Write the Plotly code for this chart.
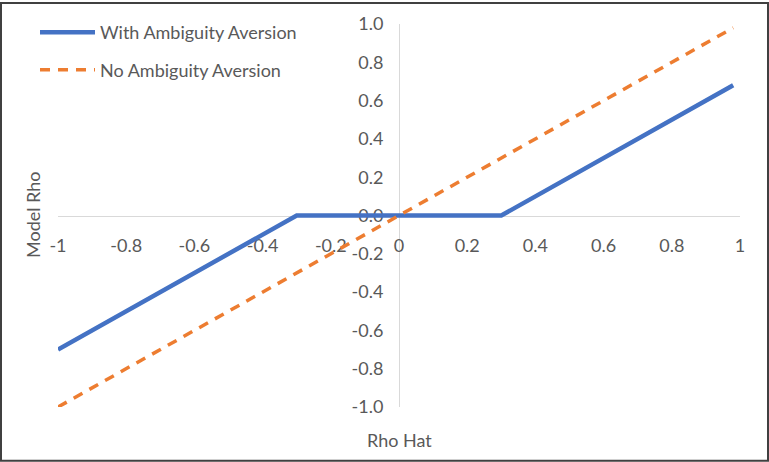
import plotly.graph_objects as go

# Data
rho_hat = [-1.0, -0.9, -0.8, -0.7, -0.6, -0.5, -0.4, -0.3, -0.2, -0.1, 0.0,
           0.1, 0.2, 0.3, 0.4, 0.5, 0.6, 0.7, 0.8, 0.9, 0.98]
with_aversion = [-0.70, -0.60, -0.50, -0.40, -0.30, -0.20, -0.10, 0.00, 0.00, 0.00, 0.00,
                 0.00, 0.00, 0.00, 0.10, 0.20, 0.30, 0.40, 0.50, 0.60, 0.68]
no_aversion = [-1.00, -0.90, -0.80, -0.70, -0.60, -0.50, -0.40, -0.30, -0.20, -0.10, 0.00,
               0.10, 0.20, 0.30, 0.40, 0.50, 0.60, 0.70, 0.80, 0.90, 0.98]

x_ticks = [-1, -0.8, -0.6, -0.4, -0.2, 0, 0.2, 0.4, 0.6, 0.8, 1]
x_tick_labels = ["-1", "-0.8", "-0.6", "-0.4", "-0.2", "0", "0.2", "0.4", "0.6", "0.8", "1"]
y_ticks = [-1.0, -0.8, -0.6, -0.4, -0.2, 0.0, 0.2, 0.4, 0.6, 0.8, 1.0]
y_tick_labels = ["-1.0", "-0.8", "-0.6", "-0.4", "-0.2", "0.0", "0.2", "0.4", "0.6", "0.8", "1.0"]

W, H = 769, 462
L, R, T, B = 58, 29, 22, 55
PW, PH = W - L - R, H - T - B

FONT = "Lato"
FS = 18
GRAY = "#595959"
AXIS = "#d9d9d9"

fig = go.Figure()
fig.add_trace(go.Scatter(x=rho_hat, y=with_aversion, mode="lines",
                         name="With Ambiguity Aversion", legendgroup="a",
                         line=dict(color="#4472C4", width=4.5)))
fig.add_trace(go.Scatter(x=rho_hat, y=no_aversion, mode="lines",
                         name="No Ambiguity Aversion", legendgroup="b",
                         line=dict(color="#ED7D31", width=3.5, dash="10px,8px")))

def px2x(p):
    return (p - L) / PW

def py2y(p):
    return (H - B - p) / PH

fig.update_layout(
    width=W, height=H,
    margin=dict(l=L, r=R, t=T, b=B),
    paper_bgcolor="white", plot_bgcolor="white",
    font=dict(family=FONT, size=FS, color=GRAY),
    xaxis=dict(range=[-1, 1], anchor="free", position=0.5,
               showline=True, linecolor=AXIS, linewidth=1,
               showgrid=False, zeroline=False, ticks="",
               tickvals=x_ticks, ticktext=x_tick_labels,
               ticklabelstandoff=14, layer="below traces",
               tickfont=dict(family=FONT, size=FS, color=GRAY)),
    yaxis=dict(range=[-1, 1], anchor="free", position=0.5,
               showline=True, linecolor=AXIS, linewidth=1,
               showgrid=False, zeroline=False, ticks="",
               tickvals=y_ticks, ticktext=y_tick_labels,
               ticklabelstandoff=12, layer="below traces",
               tickfont=dict(family=FONT, size=FS, color=GRAY)),
    legend=dict(x=px2x(35), y=py2y(12), xanchor="left", yanchor="top",
                bgcolor="rgba(0,0,0,0)", borderwidth=0,
                tracegroupgap=11, itemwidth=55,
                font=dict(family=FONT, size=FS, color=GRAY)),
    showlegend=True,
    annotations=[
        dict(text="Model Rho", x=px2x(33), y=py2y(214), xref="paper", yref="paper",
             xanchor="center", yanchor="middle",
             textangle=-90, showarrow=False, font=dict(family=FONT, size=FS, color=GRAY)),
        dict(text="Rho Hat", x=0.5, y=py2y(440), xref="paper", yref="paper",
             xanchor="center", yanchor="middle",
             showarrow=False, font=dict(family=FONT, size=FS, color=GRAY)),
    ],
    shapes=[
        dict(type="rect", xref="paper", yref="paper",
             x0=px2x(1), x1=px2x(W - 1), y0=py2y(H - 1), y1=py2y(1),
             line=dict(color="#404040", width=2), fillcolor="rgba(0,0,0,0)", layer="above"),
    ],
)

fig.write_html("out.html",
               config={"displayModeBar": False},
               post_script="document.body.style.margin='0';document.body.style.overflow='hidden';")
